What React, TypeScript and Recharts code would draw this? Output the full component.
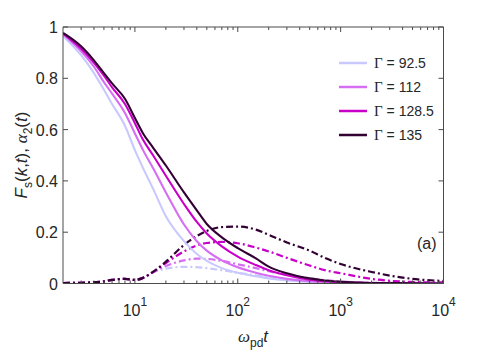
import React from "react";
import { LineChart, Line, XAxis, YAxis, Legend, ReferenceLine } from "recharts";

// omega_pd * t sample points (log axis)
const T = [2, 3, 4, 5, 6, 8, 10, 12, 15, 20, 30, 40, 50, 70, 100, 150, 200, 300, 500, 700, 1000, 2000, 5000, 10000];

// F_s(k,t)
const FS_925 = [0.965, 0.89, 0.82, 0.755, 0.7, 0.615, 0.52, 0.45, 0.37, 0.262, 0.165, 0.115, 0.088, 0.06, 0.042, 0.028, 0.02, 0.012, 0.006, 0.004, 0.003, 0.001, 0, 0];
const FS_112 = [0.972, 0.905, 0.845, 0.785, 0.74, 0.665, 0.585, 0.52, 0.45, 0.355, 0.23, 0.165, 0.128, 0.09, 0.063, 0.042, 0.03, 0.018, 0.009, 0.006, 0.004, 0.002, 0.001, 0];
const FS_1285 = [0.975, 0.915, 0.86, 0.81, 0.765, 0.7, 0.625, 0.56, 0.5, 0.42, 0.31, 0.24, 0.195, 0.145, 0.105, 0.072, 0.052, 0.032, 0.015, 0.009, 0.005, 0.002, 0.001, 0];
const FS_135 = [0.977, 0.925, 0.87, 0.82, 0.78, 0.72, 0.645, 0.585, 0.53, 0.46, 0.355, 0.285, 0.232, 0.18, 0.138, 0.098, 0.066, 0.04, 0.02, 0.012, 0.007, 0.002, 0.001, 0];

// alpha_2(t)
const A2_925 = [0.002, 0.003, 0.005, 0.008, 0.014, 0.018, 0.014, 0.022, 0.043, 0.058, 0.065, 0.064, 0.06, 0.052, 0.042, 0.032, 0.025, 0.017, 0.01, 0.007, 0.004, 0.002, 0.001, 0];
const A2_112 = [0.002, 0.003, 0.005, 0.008, 0.014, 0.018, 0.014, 0.022, 0.044, 0.068, 0.09, 0.097, 0.096, 0.088, 0.075, 0.06, 0.048, 0.034, 0.02, 0.013, 0.008, 0.003, 0.001, 0];
const A2_1285 = [0.002, 0.003, 0.005, 0.008, 0.014, 0.018, 0.014, 0.022, 0.045, 0.08, 0.125, 0.148, 0.158, 0.162, 0.157, 0.14, 0.125, 0.1, 0.07, 0.052, 0.04, 0.018, 0.006, 0.004];
const A2_135 = [0.002, 0.003, 0.005, 0.008, 0.014, 0.018, 0.014, 0.022, 0.045, 0.085, 0.15, 0.185, 0.205, 0.22, 0.222, 0.21, 0.19, 0.16, 0.128, 0.1, 0.076, 0.045, 0.018, 0.01];

const GAMMAS = ["92.5", "112", "128.5", "135"];
const COLORS = ["#c9c9ff", "#d56ef2", "#c800c8", "#330033"];

const X_DOMAIN = [2, 10000];
const X_DECADES = [10, 100, 1000, 10000];
const X_MINOR = [3, 4, 5, 6, 7, 8, 9, 20, 30, 40, 50, 60, 70, 80, 90, 200, 300, 400, 500, 600, 700, 800, 900, 2000, 3000, 4000, 5000, 6000, 7000, 8000, 9000];
const Y_TICKS = [0, 0.2, 0.4, 0.6, 0.8, 1];

const data = T.map((t, i) => ({
  t,
  fs0: FS_925[i], fs1: FS_112[i], fs2: FS_1285[i], fs3: FS_135[i],
  a0: A2_925[i], a1: A2_112[i], a2: A2_1285[i], a3: A2_135[i],
}));

const AXIS = "#4a4a4a";
const TEXT = "#262626";
const FONT = "'Liberation Sans', Arial, sans-serif";

// plot box (px) = chart 491x354 minus margins and axis sizes below
const PLOT = { left: 63, top: 27, right: 443.5, bottom: 283.5 };
const px = (v: number) =>
  PLOT.left + ((PLOT.right - PLOT.left) * Math.log(v / X_DOMAIN[0])) / Math.log(X_DOMAIN[1] / X_DOMAIN[0]);
const py = (v: number) => PLOT.bottom - (PLOT.bottom - PLOT.top) * v;

function DecadeTick(props: any) {
  const { x, y, payload } = props;
  return (
    <text x={x} y={y + 32} textAnchor="middle" fill={TEXT} fontFamily={FONT} fontSize={16}>
      <tspan>10</tspan>
      <tspan dy={-10} fontSize={12}>{Math.round(Math.log10(payload.value))}</tspan>
    </text>
  );
}

function YTick(props: any) {
  const { x, y, payload } = props;
  return (
    <text x={x - 5} y={y + 6} textAnchor="end" fill={TEXT} fontFamily={FONT} fontSize={16}>
      {payload.value}
    </text>
  );
}

// MATLAB-style inward tick marks on all four sides of the box
function InwardTicks() {
  const xt = [...X_DECADES.map((v) => [v, 5]), ...X_MINOR.map((v) => [v, 3])];
  let d = "";
  xt.forEach(([v, len]) => {
    const x = px(v);
    d += `M${x},${PLOT.bottom}v${-len}M${x},${PLOT.top}v${len}`;
  });
  Y_TICKS.forEach((v) => {
    const y = py(v);
    d += `M${PLOT.left},${y}h5M${PLOT.right},${y}h-5`;
  });
  return <path d={d} stroke={AXIS} strokeWidth={1} fill="none" />;
}

function GammaLegend() {
  return (
    <svg width={120} height={100}>
      {GAMMAS.map((g, i) => (
        <g key={g}>
          <line x1={3} x2={31} y1={13 + i * 24} y2={13 + i * 24} stroke={COLORS[i]} strokeWidth={2.5} />
          <text x={38} y={18 + i * 24} fill={TEXT} fontFamily={FONT} fontSize={14}>
            <tspan fontFamily="'Liberation Serif', serif" fontSize={15}>Γ</tspan> = {g}
          </text>
        </g>
      ))}
    </svg>
  );
}

export default function App() {
  const solid = ["fs0", "fs1", "fs2", "fs3"];
  const dashed = ["a0", "a1", "a2", "a3"];
  return (
    <div style={{ position: "absolute", left: 0, top: 0, width: 491, height: 354, background: "#fff" }}>
      <LineChart width={491} height={354} data={data} margin={{ top: 27, right: 47.5, bottom: 30.5, left: 0 }}>
        <XAxis dataKey="t" type="number" scale="log" domain={X_DOMAIN} allowDataOverflow ticks={X_DECADES} interval={0} height={40}
          tick={<DecadeTick />} tickLine={false} tickSize={0} tickMargin={0} axisLine={{ stroke: AXIS }} />
        <YAxis type="number" domain={[0, 1]} allowDataOverflow ticks={Y_TICKS} interval={0} width={63}
          tick={<YTick />} tickLine={false} tickSize={0} tickMargin={0} axisLine={{ stroke: AXIS }} />

        {/* box: top and right edges */}
        <ReferenceLine y={1} stroke={AXIS} />
        <ReferenceLine x={X_DOMAIN[1]} stroke={AXIS} />

        {dashed.map((k, i) => (
          <Line key={k} dataKey={k} type="monotone" stroke={COLORS[i]}
            strokeWidth={2.2} strokeDasharray="7 3 2 3" dot={false} isAnimationActive={false} legendType="none" />
        ))}
        {solid.map((k, i) => (
          <Line key={k} dataKey={k} type="monotone" stroke={COLORS[i]}
            strokeWidth={2.1} dot={false} isAnimationActive={false} />
        ))}

        <Legend layout="vertical" align="center" verticalAlign="middle" content={<GammaLegend />}
          wrapperStyle={{ position: "absolute", left: 336, top: 50, width: 120, height: 100 }} />
      </LineChart>

      <svg width={491} height={354} style={{ position: "absolute", left: 0, top: 0, pointerEvents: "none" }}>
        <InwardTicks />
        <text transform="translate(27,155) rotate(-90)" textAnchor="middle" fill={TEXT} fontFamily={FONT} fontSize={17}>
          <tspan fontStyle="italic">F</tspan>
          <tspan fontSize={12} dy={5}>s</tspan>
          <tspan dy={-5}>(</tspan>
          <tspan fontStyle="italic">k</tspan>
          <tspan>,</tspan>
          <tspan fontStyle="italic">t</tspan>
          <tspan>), </tspan>
          <tspan fontStyle="italic" fontFamily="'Liberation Serif', serif">α</tspan>
          <tspan fontSize={12} dy={5}>2</tspan>
          <tspan dy={-5}>(</tspan>
          <tspan fontStyle="italic">t</tspan>
          <tspan>)</tspan>
        </text>
        <text x={253} y={342} textAnchor="middle" fill={TEXT} fontFamily={FONT} fontSize={17}>
          <tspan fontStyle="italic" fontFamily="'Liberation Serif', serif">ω</tspan>
          <tspan fontSize={12} dy={5}>pd</tspan>
          <tspan fontStyle="italic" dy={-5}>t</tspan>
        </text>
        <text x={417} y={249} fill={TEXT} fontFamily={FONT} fontSize={16}>(a)</text>
      </svg>
    </div>
  );
}
